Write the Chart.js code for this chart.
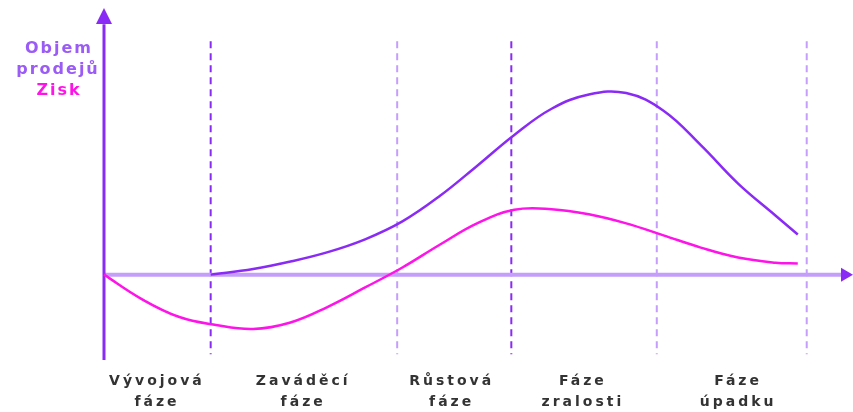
<!DOCTYPE html>
<html>
<head>
<meta charset="utf-8">
<script src="https://cdn.jsdelivr.net/npm/chart.js@4.4.1/dist/chart.umd.min.js"></script>
<style>
	html, body { margin: 0; padding: 0; background: #ffffff; }
	#wrap { width: 853px; height: 412px; }
</style>
</head>
<body>
<div id="wrap"><canvas id="lifecycle-canvas"></canvas></div>
<script>
// Phases of the product life cycle (x in % of axis length)
const phaseLabels = [
	["Vývojová", "fáze"],
	["Zaváděcí", "fáze"],
	["Růstová", "fáze"],
	["Fáze", "zralosti"],
	["Fáze", "úpadku"],
];
const phaseCenters = [7.1, 26.7, 46.6, 64.2, 85.0];
const phaseBounds = [14.3, 39.3, 54.6, 74.1, 94.2];
const boundStrong = [true, false, true, false, false];

// Objem prodejů
const salesX = [14.3, 20, 25, 30, 35, 40, 45, 50, 55, 60, 65, 70, 75, 80, 85, 90, 93];
const salesY = [0, 2.0, 4.6, 7.9, 12.4, 18.7, 27.6, 38.2, 49.1, 58.3, 63.3, 63.8, 57.6, 45.5, 32.0, 20.8, 14.1];

// Zisk
const profitX = [0, 5, 10, 15, 20, 25, 30, 35, 40, 45, 50, 55, 60, 65, 70, 75, 80, 85, 90, 93];
const profitY = [0, -8.5, -14.8, -17.7, -19.1, -16.8, -11.3, -4.5, 2.5, 10.5, 18.0, 22.8, 23.0, 21.2, 18.0, 13.8, 9.5, 6.0, 4.2, 3.9];

const yTitle = ["Objem", "prodejů", "Zisk"];

const purple = "#8a2bf5";
const lightPurple = "#c59dfb";
const magenta = "#ff14e8";
const fontFamily = "'DejaVu Sans', Inter, sans-serif";

const toPoints = (xs, ys) => xs.map((x, i) => ({ x: x, y: ys[i] }));

// wide letter spacing like the original typeface
const spacing = {
	id: "spacing",
	beforeUpdate(chart) {
		chart.ctx.letterSpacing = "3px";
	},
	beforeDraw(chart) {
		chart.ctx.letterSpacing = "3px";
	},
};

// Axes with arrows, phase separators and the y title
const decorations = {
	id: "decorations",
	beforeDatasetsDraw(chart) {
		const ctx = chart.ctx;
		const x = chart.scales.x;
		const y = chart.scales.y;
		const x0 = x.getPixelForValue(0);
		const y0 = y.getPixelForValue(0);
		ctx.save();

		// phase separators
		ctx.lineWidth = 2;
		ctx.setLineDash([7, 5]);
		phaseBounds.forEach((b, i) => {
			ctx.strokeStyle = boundStrong[i] ? purple : lightPurple;
			const px = x.getPixelForValue(b);
			ctx.beginPath();
			ctx.moveTo(px, y.getPixelForValue(82));
			ctx.lineTo(px, y.getPixelForValue(-28));
			ctx.stroke();
		});
		ctx.setLineDash([]);

		// x axis
		ctx.strokeStyle = lightPurple;
		ctx.lineWidth = 4;
		ctx.beginPath();
		ctx.moveTo(x0, y0);
		ctx.lineTo(x.getPixelForValue(100) - 6, y0);
		ctx.stroke();
		ctx.fillStyle = purple;
		const xr = x.getPixelForValue(100) + 3;
		ctx.beginPath();
		ctx.moveTo(xr, y0);
		ctx.lineTo(xr - 12, y0 - 7);
		ctx.lineTo(xr - 12, y0 + 7);
		ctx.closePath();
		ctx.fill();

		// y axis
		ctx.strokeStyle = purple;
		ctx.lineWidth = 3;
		ctx.beginPath();
		ctx.moveTo(x0, y.getPixelForValue(-30));
		ctx.lineTo(x0, y.getPixelForValue(88));
		ctx.stroke();
		const yt = y.getPixelForValue(93) - 2;
		ctx.beginPath();
		ctx.moveTo(x0, yt);
		ctx.lineTo(x0 - 8, yt + 16);
		ctx.lineTo(x0 + 8, yt + 16);
		ctx.closePath();
		ctx.fill();

		// y title
		ctx.letterSpacing = "2px";
		ctx.font = "bold 16px " + fontFamily;
		ctx.textAlign = "center";
		ctx.textBaseline = "middle";
		ctx.fillStyle = "#9a5cf5";
		ctx.fillText(yTitle[0], 59, 49);
		ctx.fillText(yTitle[1], 58, 70);
		ctx.fillStyle = magenta;
		ctx.fillText(yTitle[2], 59, 91);
		ctx.restore();
	},
};

new Chart("lifecycle-canvas", {
	type: "line",
	data: {
		datasets: [
			{
				label: "Objem prodejů",
				data: toPoints(salesX, salesY),
				borderColor: purple,
				borderWidth: 2.5,
				pointRadius: 0,
				tension: 0.4,
				fill: false,
				clip: false,
			},
			{
				label: "Zisk",
				data: toPoints(profitX, profitY),
				borderColor: magenta,
				borderWidth: 2.5,
				pointRadius: 0,
				tension: 0.4,
				fill: false,
				clip: false,
			},
		],
	},
	options: {
		responsive: true,
		maintainAspectRatio: false,
		animation: false,
		events: [],
		layout: {
			padding: { left: 104, right: 3, top: 10, bottom: -4 },
		},
		plugins: {
			legend: { display: false },
			tooltip: { enabled: false },
		},
		scales: {
			x: {
				type: "linear",
				min: 0,
				max: 100,
				grid: { display: false },
				border: { display: false },
				afterBuildTicks: (scale) => {
					scale.ticks = phaseCenters.map((v) => ({ value: v }));
				},
				ticks: {
					autoSkip: false,
					maxRotation: 0,
					padding: 3,
					color: "#333333",
					font: { family: fontFamily, size: 14, weight: "bold", lineHeight: 1.5 },
					callback: (value, index) => phaseLabels[index],
				},
			},
			y: {
				display: false,
				min: -30,
				max: 93,
			},
		},
	},
	plugins: [spacing, decorations],
});
</script>
</body>
</html>
